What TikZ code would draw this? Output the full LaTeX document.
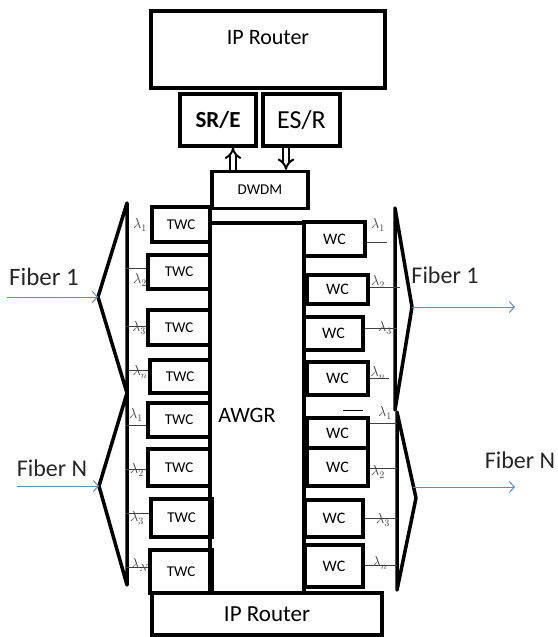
\documentclass[tikz,border=0pt]{standalone}
\usepackage{fontspec}
\setmainfont{Carlito}
\usetikzlibrary{arrows.meta}
\definecolor{fiberblue}{RGB}{95,140,185}

\begin{document}
\begin{tikzpicture}[x=1pt, y=-1pt,
    block/.style={draw, rectangle, line width=3.2pt, inner sep=0pt, font=\fontsize{15}{18}\selectfont},
    wcbox/.style={block, font=\fontsize{16}{18}\selectfont},
    splitter/.style={line width=3.5pt, line join=round},
    tap/.style={line width=0.8pt, draw=black!75},
    lam/.style={font=\fontsize{14}{16}\selectfont, text=black!75, inner sep=0pt},
    fiber/.style={draw=fiberblue, line width=1pt, -{Straight Barb[length=5pt,width=11pt]}},
    dblarrow/.style={double, double distance=3.5pt, line width=2pt, -{Implies[scale=1.4]}},
    fibtext/.style={font=\fontsize{24}{28}\selectfont, text=black!85, inner sep=0pt}
]
\useasboundingbox (0,0) rectangle (557,637);

% routers, edge stages and the AWGR
\node[block, minimum width=234pt, minimum height=77pt, label={[yshift=11.5pt, font=\fontsize{22}{26}\selectfont]center:IP Router}] (toprouter) at (268,49.5) {};
\node[block, minimum width=76pt, minimum height=52pt, font=\bfseries\fontsize{23}{26}\selectfont] (sre) at (218,120) {SR/E};
\node[block, minimum width=77pt, minimum height=52pt, font=\fontsize{26}{30}\selectfont] (esr) at (301.5,120) {ES/R};
\node[block, minimum width=96pt, minimum height=37pt] (dwdm) at (260,190) {DWDM};
\node[block, minimum width=94pt, minimum height=370pt, label={[xshift=-10pt, yshift=-7pt, font=\fontsize{22}{26}\selectfont]center:AWGR}] (awgr) at (257,408) {};
\node[block, minimum width=230pt, minimum height=42pt, font=\fontsize{23}{26}\selectfont] (botrouter) at (267,614) {IP Router};

\draw[dblarrow] ([xshift=15pt]sre.south |- dwdm.north) -- ([xshift=15pt]sre.south);
\draw[dblarrow] ([xshift=-15.5pt]esr.south) -- ([xshift=-15.5pt]esr.south |- dwdm.north);

% input converters
\node[block, minimum width=58pt, minimum height=35pt] (twc1) at (181,224.5) {TWC};
\node[block, minimum width=62pt, minimum height=34pt] (twc2) at (179,272) {TWC};
\node[block, minimum width=62pt, minimum height=35pt] (twc3) at (179,327.5) {TWC};
\node[block, minimum width=60pt, minimum height=33pt] (twc4) at (180,376.5) {TWC};
\node[block, minimum width=62pt, minimum height=34pt] (twc5) at (179,420) {TWC};
\node[block, minimum width=62pt, minimum height=37pt] (twc6) at (179,467.5) {TWC};
\node[block, minimum width=61pt, minimum height=38pt] (twc7) at (181.5,518) {TWC};
\node[block, minimum width=62pt, minimum height=43pt] (twc8) at (181,571.5) {TWC};

% output converters
\node[wcbox, minimum width=61pt, minimum height=34pt] (wc1) at (334.5,239) {WC};
\node[wcbox, minimum width=61pt, minimum height=29pt] (wc2) at (337.5,289.5) {WC};
\node[wcbox, minimum width=59pt, minimum height=33pt] (wc3) at (333.5,333.5) {WC};
\node[wcbox, minimum width=61pt, minimum height=33pt] (wc4) at (337.5,378.5) {WC};
\node[wcbox, minimum width=61pt, minimum height=30pt] (wc5) at (337.5,433) {WC};
\node[wcbox, minimum width=61pt, minimum height=38pt] (wc6) at (337.5,467) {WC};
\node[wcbox, minimum width=58pt, minimum height=37pt] (wc7) at (334,518.5) {WC};
\node[wcbox, minimum width=58pt, minimum height=42pt] (wc8) at (334,566) {WC};

% demultiplexers
\coordinate (lt1) at (127,203);
\coordinate (lapex1) at (98,297);
\coordinate (lmid) at (127,393);
\coordinate (lapexN) at (99,486);
\coordinate (lbot) at (127,585);
\draw[splitter] (lt1) -- (lapex1) -- (lmid) -- cycle;
\draw[splitter] (lmid) -- (lapexN) -- (lbot) -- cycle;

% multiplexers
\coordinate (rt1) at (395,208);
\coordinate (rapex1) at (412,307);
\coordinate (rb1) at (395,410);
\coordinate (rtN) at (397,412);
\coordinate (rapexN) at (416,498);
\coordinate (rbN) at (397,590);
\draw[splitter] (rt1) -- (rapex1) -- (rb1) -- cycle;
\draw[splitter] (rtN) -- (rapexN) -- (rbN) -- cycle;

% fibers
\coordinate (fin1) at (7,297);
\coordinate (finN) at (17,486);
\coordinate (rstartN) at (413,487);
\coordinate (fout1) at (515,307);
\coordinate (foutN) at (515,487);
\draw[fiber] (fin1) -- (lapex1);
\draw[fiber] (finN) -- (lapexN);
\draw[fiber] (rapex1) -- (fout1);
\draw[fiber] (rstartN) -- (foutN);

\node[fibtext, font=\fontsize{25}{28}\selectfont] (f1in) at (44,277) {Fiber 1};
\node[fibtext] (fNin) at (52,468) {Fiber N};
\node[fibtext] (f1out) at (445,275) {Fiber 1};
\node[fibtext] (fNout) at (520,460) {Fiber N};

% wavelength taps
\draw[tap] ([yshift=4pt]twc2.west) -- ++(-20,0);
\draw[tap] ([yshift=1.5pt]twc3.west) -- ++(-20,0);
\draw[tap] ([yshift=6.5pt]twc4.west) -- ++(-20,0);
\draw[tap] ([yshift=-5pt]twc5.west) -- ++(-20,0);
\draw[tap] ([yshift=-1.5pt]twc6.west) -- ++(-20,0);
\draw[tap] ([yshift=5pt]twc7.west) -- ++(-23,0);
\draw[tap] ([yshift=4.5pt]twc8.west) -- ++(-22,0);

\draw[tap] ([yshift=-3pt]wc1.east) -- ++(20,0);
\draw[tap] ([yshift=2.5pt]wc2.east) -- ++(30,0);
\draw[tap] ([yshift=5.5pt]wc3.east) -- ++(32,0);
\draw[tap] (wc4.east) -- ++(19,0);
\draw[tap] ([yshift=10pt]wc5.east) -- ++(27,0);
\draw[tap] ([yshift=-1pt]wc6.east) -- ++(27,0);
\draw[tap] (wc7.east) -- ++(32,0);
\draw[tap] ([yshift=1pt]wc8.east) -- ++(32,0);
\draw[line width=1pt] (343,410) -- (363,410);

\node[lam] (la1) at (140,225) {$\lambda_1$};
\node[lam] (la2) at (140,280) {$\lambda_2$};
\node[lam] (la3) at (139,328) {$\lambda_3$};
\node[lam] (la4) at (140,372) {$\lambda_n$};
\node[lam] (la5) at (136,415) {$\lambda_1$};
\node[lam] (la6) at (137,470) {$\lambda_2$};
\node[lam] (la7) at (137,518) {$\lambda_3$};
\node[lam] (la8) at (140,565) {$\lambda_N$};

\node[lam] (lb1) at (378,225) {$\lambda_1$};
\node[lam] (lb2) at (378,282) {$\lambda_2$};
\node[lam] (lb3) at (385,328) {$\lambda_3$};
\node[lam] (lb4) at (378,373) {$\lambda_n$};
\node[lam] (lb5) at (385,413) {$\lambda_1$};
\node[lam] (lb6) at (378,472) {$\lambda_2$};
\node[lam] (lb7) at (383,520) {$\lambda_3$};
\node[lam] (lb8) at (380,563) {$\lambda_n$};
\end{tikzpicture}
\end{document}
